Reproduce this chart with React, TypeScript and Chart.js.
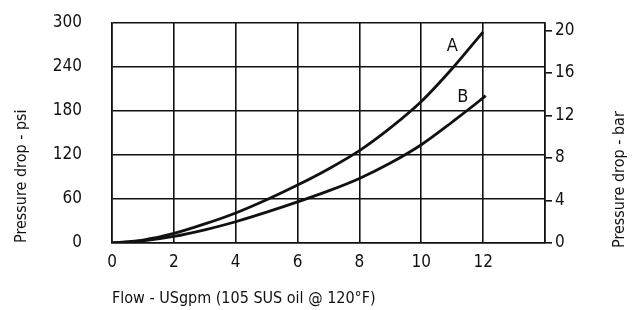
import React, { useEffect, useRef } from "react";
import { Chart, registerables } from "chart.js";

Chart.register(...registerables);

// ---- data ----
const flowA = [0, 1, 2, 3, 4, 5, 6, 7, 8, 9, 10, 11, 12];
const psiA = [0, 4, 13, 26, 41, 59, 79, 101, 126, 157, 193, 238, 288];
const flowB = [0, 1, 2, 3, 4, 5, 6, 7, 8, 9, 10, 11, 12, 12.08];
const psiB = [0, 3, 9, 18, 29, 42, 56, 71, 88, 109, 134, 165, 198, 201];
const curveNames = ["A", "B"];
const curveLabelX = [11.0, 11.34];
const curveLabelY = [268, 199];
const xMin = 0;
const xMax = 14;
const xStep = 2;
const psiMin = 0;
const psiMax = 300;
const psiStep = 60;
const barStep = 4;
const psiPerBar = 14.5;
const xTitle = "Flow - USgpm (105 SUS oil @ 120°F)";
const yTitle = "Pressure drop - psi";
const y2Title = "Pressure drop - bar";

const FONT = "'Liberation Sans Narrow', 'DejaVu Sans Condensed', 'Arial Narrow', sans-serif";
const INK = "#111111";

const extrasPlugin = {
  id: "extras",
  afterDatasetsDraw(chart: any) {
    const { ctx, chartArea, scales } = chart;
    ctx.save();
    ctx.fillStyle = INK;
    ctx.font = `18px ${FONT}`;
    ctx.textAlign = "center";
    ctx.textBaseline = "middle";
    curveNames.forEach((n, i) => {
      ctx.fillText(n, scales.x.getPixelForValue(curveLabelX[i]), scales.y.getPixelForValue(curveLabelY[i]));
    });
    // right axis title, reading bottom-to-top
    ctx.font = `16px ${FONT}`;
    ctx.translate(chart.width - 12, chartArea.bottom + 5);
    ctx.rotate(-Math.PI / 2);
    ctx.textAlign = "left";
    ctx.fillText(y2Title, 0, 0);
    ctx.restore();
  },
};

export default function App() {
  const ref = useRef<HTMLCanvasElement | null>(null);

  useEffect(() => {
    if (!ref.current) return;
    const tickFont = { family: FONT, size: 17 };
    const titleFont = { family: FONT, size: 16 };
    const chart = new Chart(ref.current, {
      type: "line",
      data: {
        datasets: [
          {
            label: curveNames[0],
            data: flowA.map((x, i) => ({ x, y: psiA[i] })),
            borderColor: INK,
            borderWidth: 2.8,
            pointRadius: 0,
            cubicInterpolationMode: "monotone",
            fill: false,
            yAxisID: "y",
          },
          {
            label: curveNames[1],
            data: flowB.map((x, i) => ({ x, y: psiB[i] })),
            borderColor: INK,
            borderWidth: 2.8,
            pointRadius: 0,
            cubicInterpolationMode: "monotone",
            fill: false,
            yAxisID: "y",
          },
        ],
      },
      options: {
        animation: false,
        responsive: false,
        maintainAspectRatio: false,
        layout: { padding: { top: 23, left: 0, right: 0, bottom: 0 } },
        plugins: { legend: { display: false }, tooltip: { enabled: false } },
        scales: {
          x: {
            type: "linear",
            min: xMin,
            max: xMax,
            afterFit: (s: any) => { s.height = 67; },
            grid: { color: INK, lineWidth: 1.6, drawTicks: false },
            border: { color: INK, width: 1.6 },
            ticks: {
              stepSize: xStep,
              padding: 9,
              color: INK,
              font: tickFont,
              maxRotation: 0,
              callback: (v: any) => (Number(v) >= xMax ? "" : String(v)),
            },
            title: {
              display: true,
              text: xTitle,
              align: "start",
              color: INK,
              font: titleFont,
              padding: { top: 0, bottom: 2 },
            },
          },
          y: {
            type: "linear",
            position: "left",
            min: psiMin,
            max: psiMax,
            afterFit: (s: any) => { s.width = 112; },
            grid: { color: INK, lineWidth: 1.6, drawTicks: true, tickLength: 27, tickColor: "rgba(0,0,0,0)" },
            border: { color: INK, width: 1.6 },
            ticks: { stepSize: psiStep, padding: 3, color: INK, font: tickFont },
            title: {
              display: true,
              text: yTitle,
              align: "start",
              color: INK,
              font: titleFont,
              padding: { top: 12, bottom: 0 },
            },
          },
          y2: {
            type: "linear",
            position: "right",
            min: psiMin / psiPerBar,
            max: psiMax / psiPerBar,
            afterFit: (s: any) => { s.width = 87; },
            grid: { drawOnChartArea: false, drawTicks: true, tickLength: 7, color: INK, lineWidth: 1.6 },
            border: { color: INK, width: 1.6 },
            ticks: { stepSize: barStep, includeBounds: false, padding: 3, color: INK, font: tickFont },
          },
        },
      },
      plugins: [extrasPlugin],
    } as any);
    return () => chart.destroy();
  }, []);

  return (
    <div style={{ position: "fixed", left: 0, top: 0, width: 632, height: 310, background: "#fff" }}>
      <canvas ref={ref} width={632} height={310} style={{ width: 632, height: 310 }} />
    </div>
  );
}
